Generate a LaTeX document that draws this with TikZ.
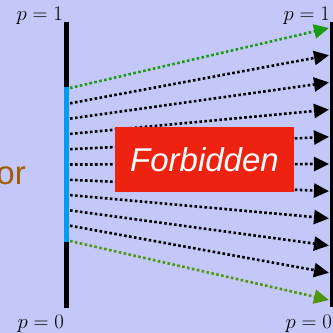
\documentclass[tikz,border=0pt]{standalone}
\usepackage{fontspec}
\newfontfamily\sansf{Liberation Sans}
\usetikzlibrary{arrows.meta}
\definecolor{bgc}{HTML}{C4C8F8}
\definecolor{barblue}{HTML}{009CF4}
\definecolor{gtop}{HTML}{1C9A14}
\definecolor{gbot}{HTML}{4E9610}
\definecolor{redbox}{HTML}{EE2210}
\definecolor{brownt}{HTML}{A05C06}
\tikzset{
  ray/.style={line width=2.6pt, dash pattern=on 2.6pt off 2.4pt,
    -{Triangle[length=15pt,width=14pt]}},
  plabel/.style={inner sep=0pt, font=\fontsize{21}{25}\selectfont},
  barline/.style={line width=5pt},
}
\begin{document}
\begin{tikzpicture}[x=1pt,y=-1pt]
\useasboundingbox (0,0) rectangle (333,333);
\fill[bgc] (0,0) rectangle (333,333);
% bars
\coordinate (ltop) at (66.5,22);
\coordinate (lbot) at (66.5,308);
\coordinate (bstart) at (66.5,87);
\coordinate (bend) at (66.5,241.5);
\coordinate (rtop) at (332,22);
\coordinate (rbot) at (332,307);
\draw[barline] (ltop) -- (lbot);
\draw[barline, barblue] (bstart) -- (bend);
\draw[line width=4pt] (rtop) -- (rbot);
% rays
\foreach \i in {0,...,10} {
  \coordinate (s\i) at (70, {88+\i*15.3});
  \coordinate (e\i) at (329, {28+\i*27.2});
}
\foreach \i in {1,...,9} {
  \draw[ray] (s\i) -- (e\i);
}
\draw[ray, gtop] (s0) -- (e0);
\draw[ray, gbot] (s10) -- (e10);
% forbidden box
\node[fill=redbox, minimum width=179pt, minimum height=65pt, inner sep=0pt,
  text=white, font=\sansf\itshape\fontsize{33}{36}\selectfont] (forb) at (204.5,159.5) {Forbidden};
% labels
\node[plabel, anchor=base east] (p1l) at (63,20) {$p = 1$};
\node[plabel, anchor=base east] (p1r) at (330,20) {$p = 1$};
\node[plabel, anchor=base east] (p0l) at (64,328) {$p = 0$};
\node[plabel, anchor=base east] (p0r) at (332,328) {$p = 0$};
\node[inner sep=0pt, anchor=base east, text=brownt, font=\sansf\fontsize{33}{36}\selectfont] (ortxt) at (26,184) {or};
\end{tikzpicture}
\end{document}
